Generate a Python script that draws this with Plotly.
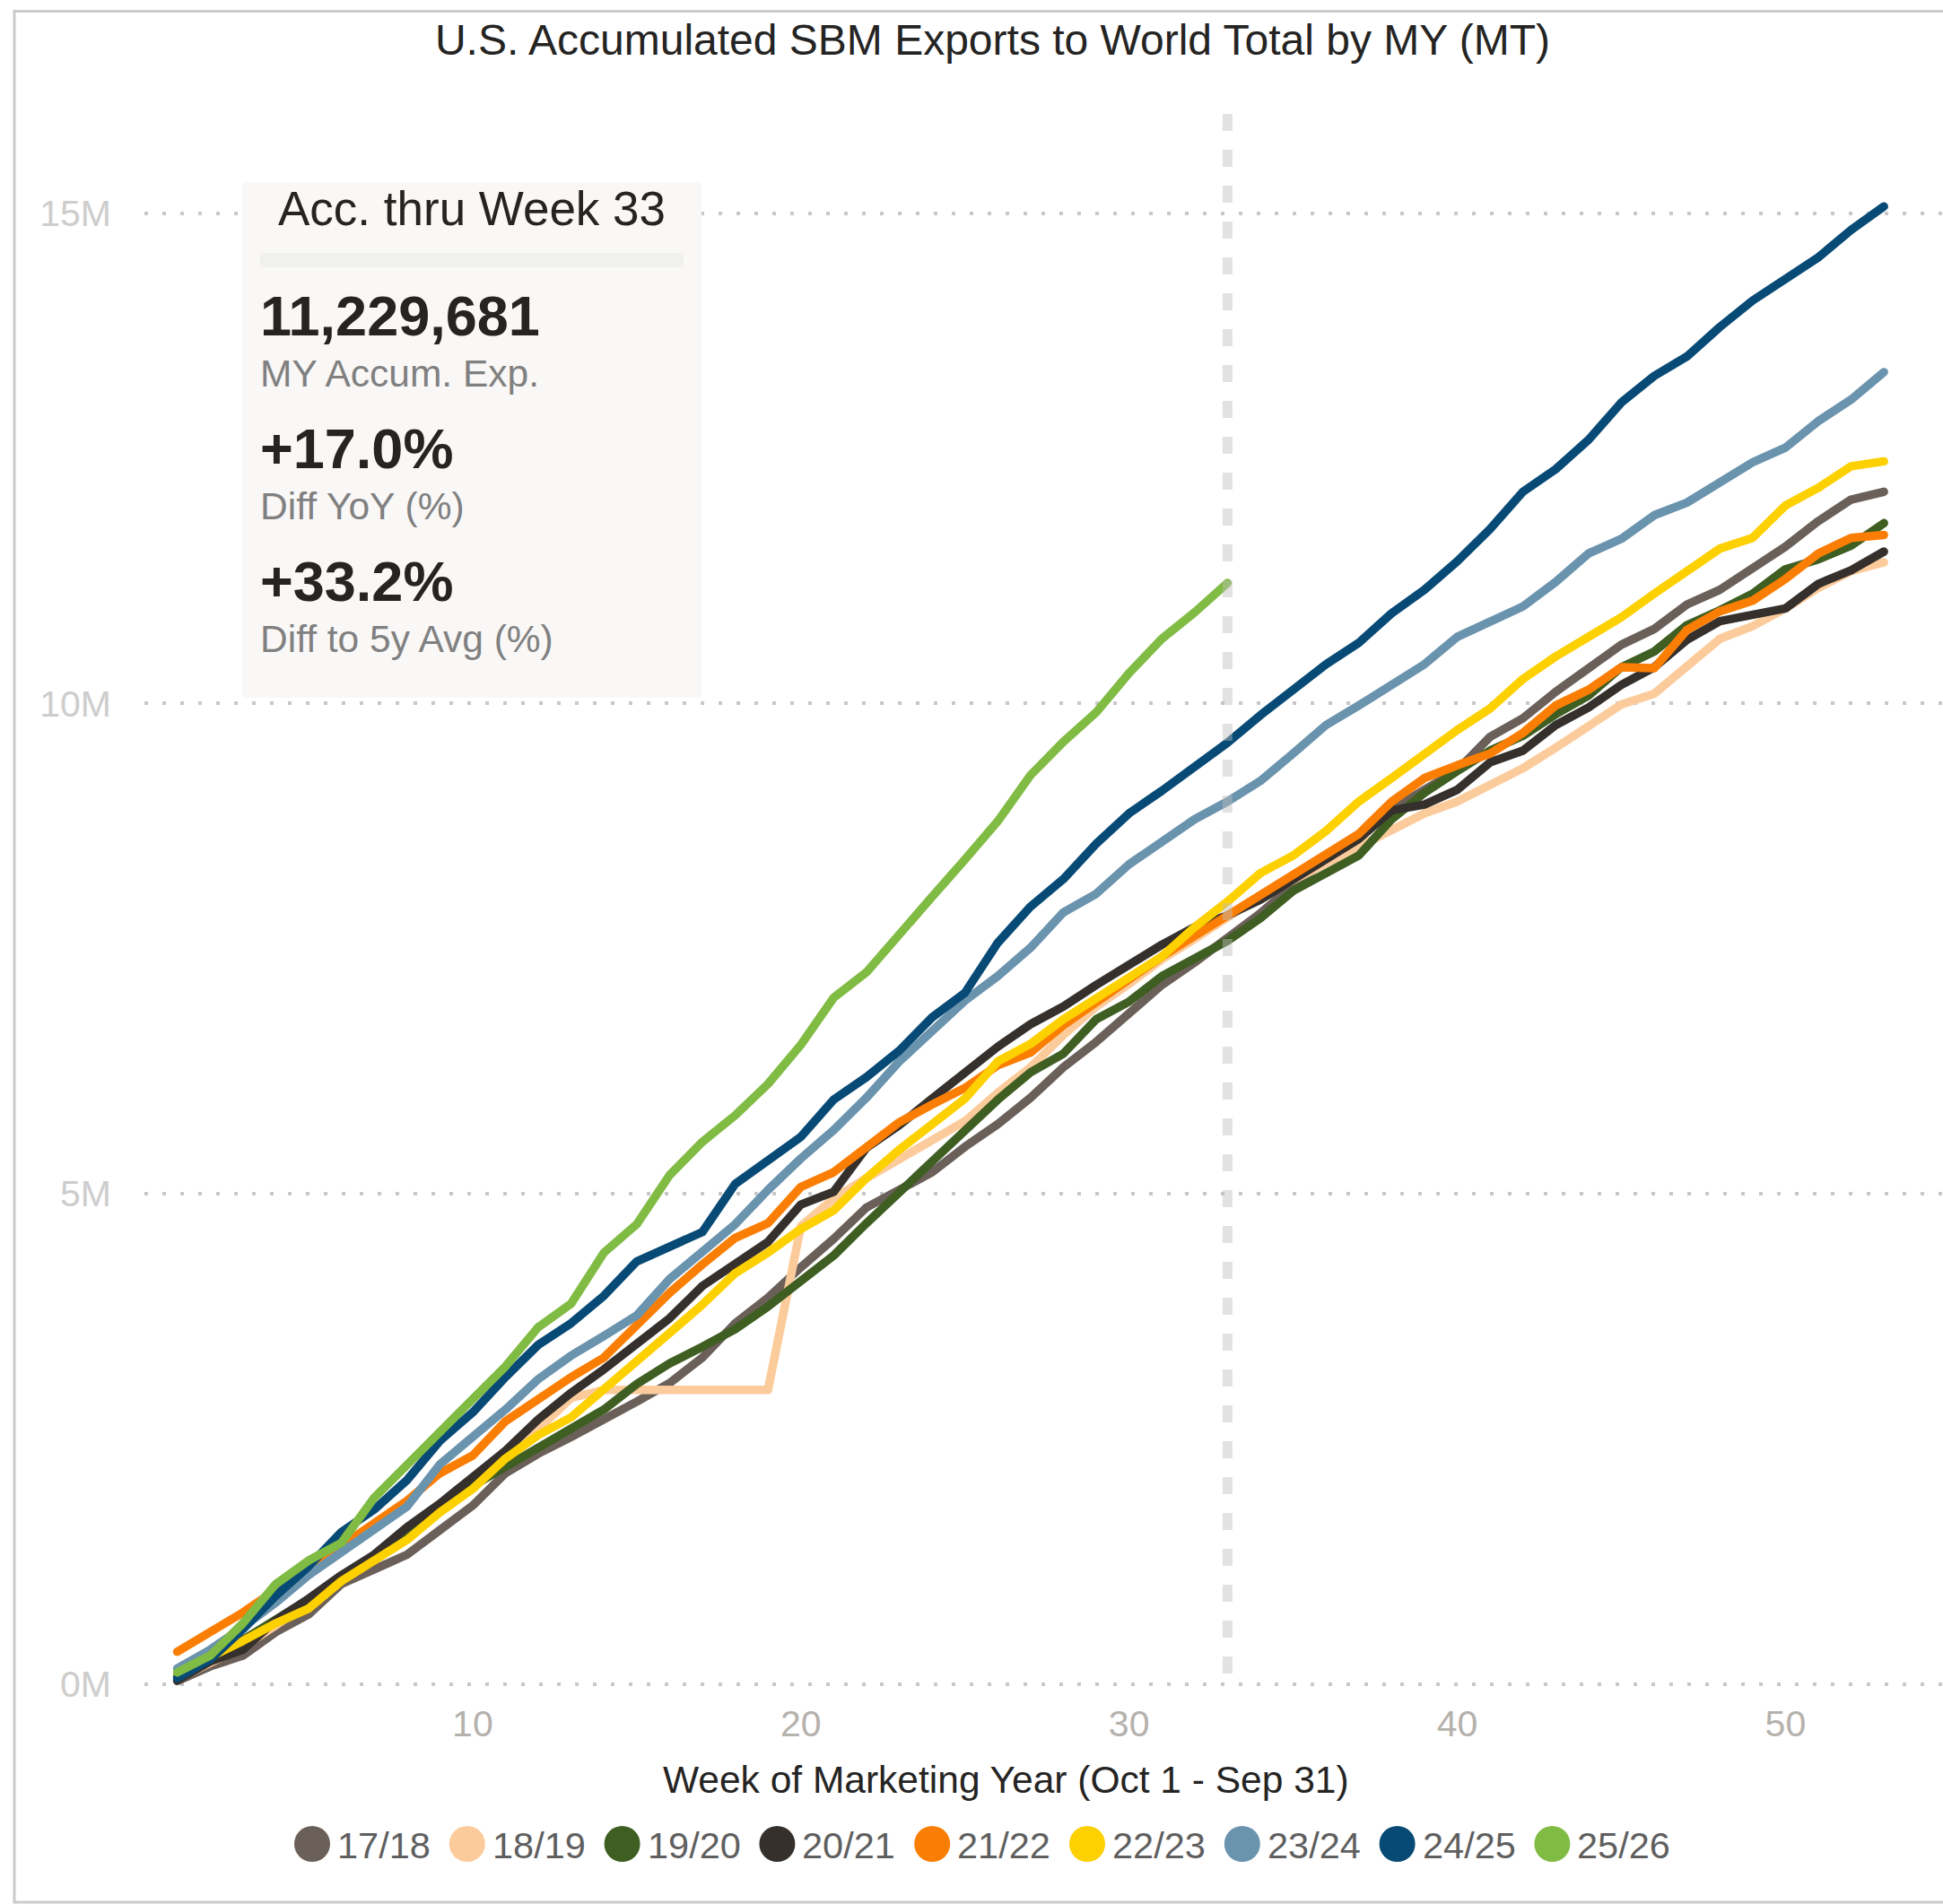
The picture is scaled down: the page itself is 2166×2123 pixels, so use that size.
import plotly.graph_objects as go

# ---------------- data (million MT, accumulated by week of MY) ----------------
seasons = ["17/18", "18/19", "19/20", "20/21", "21/22", "22/23", "23/24", "24/25", "25/26"]
colors = ["#6b6059", "#fccb9b", "#3f5e22", "#35302c", "#fb7e04", "#fdd000", "#6a93ae", "#084a76", "#80bb43"]

s1718 = [0.03, 0.18, 0.29, 0.53, 0.71, 1.02, 1.17, 1.32, 1.57, 1.82,
         2.15, 2.35, 2.52, 2.69, 2.88, 3.07, 3.33, 3.68, 3.94, 4.25,
         4.54, 4.86, 5.04, 5.22, 5.48, 5.71, 5.98, 6.29, 6.55, 6.84,
         7.13, 7.36, 7.60, 7.86, 8.15, 8.40, 8.62, 8.92, 9.12, 9.32,
         9.66, 9.85, 10.12, 10.35, 10.60, 10.76, 11.01, 11.16, 11.37, 11.60,
         11.86, 12.08, 12.16]
s1819 = [0.05, 0.22, 0.38, 0.60, 0.82, 1.05, 1.28, 1.52, 1.78, 2.02,
         2.30, 2.60, 2.92, 3.00, 3.00, 3.00, 3.00, 3.00, 3.00, 4.67,
         4.95, 5.16, 5.35, 5.53, 5.74, 6.03, 6.29, 6.62, 6.91, 7.14,
         7.39, 7.60, 7.82, 8.04, 8.20, 8.37, 8.54, 8.70, 8.88, 9.00,
         9.18, 9.34, 9.55, 9.76, 9.99, 10.10, 10.37, 10.66, 10.79, 10.97,
         11.18, 11.35, 11.44]
s1920 = [0.08, 0.28, 0.45, 0.65, 0.85, 1.07, 1.30, 1.55, 1.80, 2.02,
         2.22, 2.42, 2.60, 2.80, 3.06, 3.27, 3.44, 3.62, 3.85, 4.10,
         4.37, 4.70, 5.01, 5.33, 5.65, 5.96, 6.24, 6.43, 6.78, 6.96,
         7.22, 7.39, 7.58, 7.81, 8.09, 8.27, 8.45, 8.82, 9.09, 9.31,
         9.52, 9.67, 9.89, 10.08, 10.37, 10.53, 10.80, 10.95, 11.12, 11.37,
         11.47, 11.61, 11.84]
s2021 = [0.04, 0.23, 0.35, 0.65, 0.87, 1.11, 1.32, 1.60, 1.84, 2.10,
         2.38, 2.70, 2.97, 3.21, 3.46, 3.73, 4.06, 4.28, 4.51, 4.89,
         5.02, 5.47, 5.70, 5.97, 6.23, 6.50, 6.73, 6.91, 7.13, 7.34,
         7.54, 7.72, 7.84, 8.00, 8.20, 8.40, 8.62, 8.91, 8.97, 9.12,
         9.40, 9.52, 9.78, 9.96, 10.19, 10.37, 10.65, 10.84, 10.90, 10.97,
         11.22, 11.36, 11.55]
s2122 = [0.33, 0.53, 0.73, 0.96, 1.20, 1.41, 1.64, 1.87, 2.15, 2.33,
         2.68, 2.91, 3.13, 3.33, 3.65, 3.99, 4.28, 4.55, 4.70, 5.07,
         5.22, 5.47, 5.73, 5.91, 6.08, 6.31, 6.44, 6.72, 6.96, 7.19,
         7.42, 7.63, 7.84, 8.04, 8.24, 8.45, 8.67, 9.00, 9.24, 9.37,
         9.49, 9.70, 9.98, 10.14, 10.37, 10.36, 10.75, 10.94, 11.05, 11.27,
         11.53, 11.69, 11.72]
s2223 = [0.11, 0.27, 0.44, 0.62, 0.77, 1.05, 1.26, 1.47, 1.75, 1.99,
         2.30, 2.54, 2.72, 3.00, 3.29, 3.58, 3.87, 4.19, 4.40, 4.64,
         4.83, 5.16, 5.45, 5.71, 5.97, 6.35, 6.53, 6.78, 6.99, 7.22,
         7.42, 7.72, 7.98, 8.27, 8.45, 8.70, 9.00, 9.24, 9.49, 9.73,
         9.95, 10.25, 10.48, 10.68, 10.88, 11.12, 11.35, 11.58, 11.69, 12.02,
         12.20, 12.42, 12.47]
s2324 = [0.16, 0.35, 0.58, 0.83, 1.11, 1.35, 1.57, 1.81, 2.24, 2.52,
         2.80, 3.11, 3.35, 3.55, 3.76, 4.13, 4.41, 4.69, 5.04, 5.36,
         5.65, 5.98, 6.35, 6.67, 6.97, 7.22, 7.51, 7.87, 8.06, 8.36,
         8.59, 8.82, 9.00, 9.21, 9.49, 9.78, 9.98, 10.19, 10.40, 10.68,
         10.83, 10.99, 11.24, 11.53, 11.68, 11.92, 12.05, 12.25, 12.46, 12.61,
         12.88, 13.10, 13.38]
s2425 = [0.06, 0.25, 0.56, 0.90, 1.20, 1.55, 1.78, 2.08, 2.48, 2.77,
         3.13, 3.46, 3.68, 3.96, 4.31, 4.46, 4.61, 5.10, 5.34, 5.58,
         5.96, 6.19, 6.46, 6.80, 7.05, 7.56, 7.93, 8.21, 8.57, 8.88,
         9.11, 9.35, 9.60, 9.88, 10.13, 10.40, 10.62, 10.92, 11.16, 11.45,
         11.78, 12.16, 12.39, 12.69, 13.07, 13.34, 13.54, 13.84, 14.11, 14.33,
         14.55, 14.83, 15.07]
s2526 = [0.12, 0.29, 0.62, 1.02, 1.26, 1.44, 1.90, 2.24, 2.57, 2.91,
         3.24, 3.64, 3.88, 4.40, 4.69, 5.19, 5.53, 5.80, 6.12, 6.52,
         7.00, 7.26, 7.63, 8.03, 8.41, 8.80, 9.27, 9.61, 9.91, 10.31,
         10.66, 10.93, 11.229681]
series = [s1718, s1819, s1920, s2021, s2122, s2223, s2324, s2425, s2526]

current_week = 33
x_ticks = [10, 20, 30, 40, 50]
y_ticks = [0, 5, 10, 15]
y_tick_text = ["0M", "5M", "10M", "15M"]

title_text = "U.S. Accumulated SBM Exports to World Total by MY (MT)"
x_title = "Week of Marketing Year (Oct 1 - Sep 31)"
kpi_header = "Acc. thru Week 33"
kpi_values = ["11,229,681", "+17.0%", "+33.2%"]
kpi_labels = ["MY Accum. Exp.", "Diff YoY (%)", "Diff to 5y Avg (%)"]

# ---------------- layout geometry (pixels) ----------------
W, H = 2166, 2123
L, R, T, B = 161, 0, 123, 231
PW, PH = W - L - R, H - T - B
FONT = "Liberation Sans, Arial, sans-serif"


def px(x):
    return (x - L) / PW


def py(y):
    return (H - B - y) / PH


fig = go.Figure()
for name, col, vals in zip(seasons, colors, series):
    fig.add_trace(go.Scatter(
        x=list(range(1, len(vals) + 1)), y=vals, mode="lines", name=name,
        line=dict(color=col, width=9.5), showlegend=False,
        hovertemplate="Week %{x}<br>%{y:.2f}M<extra>" + name + "</extra>"))

shapes = []
annotations = []

# outer frame
shapes.append(dict(type="rect", xref="paper", yref="paper",
                   x0=px(16), x1=px(W + 20), y0=py(2121), y1=py(12.5),
                   line=dict(color="#cccccc", width=3), fillcolor="rgba(0,0,0,0)", layer="below"))

# current week marker line
shapes.append(dict(type="line", xref="x", yref="paper", x0=current_week, x1=current_week,
                   y0=py(1866), y1=1, layer="above",
                   line=dict(color="rgba(190,190,190,0.45)", width=11, dash="19px,21px")))

# KPI card
shapes.append(dict(type="rect", xref="paper", yref="paper", x0=px(270), x1=px(782),
                   y0=py(778), y1=py(203), fillcolor="#faf8f7", line=dict(width=0), layer="above"))
shapes.append(dict(type="rect", xref="paper", yref="paper", x0=px(290), x1=px(762),
                   y0=py(298), y1=py(282), fillcolor="#f0f0ee", line=dict(width=0), layer="above"))

annotations.append(dict(text=kpi_header, xref="paper", yref="paper", x=px(526), y=py(232),
                        xanchor="center", yanchor="middle", showarrow=False,
                        font=dict(family=FONT, size=53, color="#252423")))
val_y = [352, 500, 648]
lab_y = [416, 564, 712]
for v, lab, vy, ly in zip(kpi_values, kpi_labels, val_y, lab_y):
    annotations.append(dict(text="<b>" + v + "</b>", xref="paper", yref="paper", x=px(288), y=py(vy),
                            xanchor="left", yanchor="middle", showarrow=False,
                            font=dict(family=FONT, size=63, color="#252423")))
    annotations.append(dict(text=lab, xref="paper", yref="paper", x=px(288), y=py(ly),
                            xanchor="left", yanchor="middle", showarrow=False,
                            font=dict(family=FONT, size=42.5, color="#808080")))

# x-axis title
annotations.append(dict(text=x_title, xref="paper", yref="paper", x=px(1121), y=py(1985),
                        xanchor="center", yanchor="middle", showarrow=False,
                        font=dict(family=FONT, size=42.5, color="#252423")))

# legend (circle + label), built from the seasons / colors lists
leg_x0, leg_dx, leg_y, rad = 348, 172.8, 2056, 20
for i, (name, col) in enumerate(zip(seasons, colors)):
    cx = leg_x0 + i * leg_dx
    shapes.append(dict(type="circle", xref="paper", yref="paper",
                       x0=px(cx - rad), x1=px(cx + rad), y0=py(leg_y + rad), y1=py(leg_y - rad),
                       fillcolor=col, line=dict(width=0)))
    annotations.append(dict(text=name, xref="paper", yref="paper", x=px(cx + 26), y=py(leg_y + 1),
                            xanchor="left", yanchor="middle", showarrow=False,
                            font=dict(family=FONT, size=41.5, color="#5f5f5f")))

fig.update_layout(
    width=W, height=H,
    margin=dict(l=L, r=R, t=T, b=B, autoexpand=False),
    paper_bgcolor="white", plot_bgcolor="white",
    font=dict(family=FONT),
    title=dict(text=title_text, xref="container", yref="container",
               x=1106.5 / W, y=1 - 44 / H, xanchor="center", yanchor="middle",
               font=dict(family=FONT, size=48, color="#252423")),
    xaxis=dict(range=[0, 54.8], tickmode="array", tickvals=x_ticks,
               showgrid=False, zeroline=False, showline=False, ticks="",
               tickfont=dict(family=FONT, size=41, color="#b5b1ad"), ticklabelstandoff=2),
    yaxis=dict(range=[-0.13, 16.05], tickmode="array", tickvals=y_ticks, ticktext=y_tick_text,
               showgrid=True, gridcolor="#c8c8c8", gridwidth=3.5, griddash="4px,16px",
               zeroline=False, showline=False, ticks="",
               tickfont=dict(family=FONT, size=41, color="#cdcdcd"), ticklabelstandoff=36),
    shapes=shapes, annotations=annotations, showlegend=False,
)

post = """
document.body.style.margin = '0';
document.body.style.padding = '0';
var gd = document.getElementById('{plot_id}');
function fixCaps(){
  gd.querySelectorAll('.scatterlayer path.js-line').forEach(function(p){
    p.style.strokeLinecap='round'; p.style.strokeLinejoin='round';
  });
}
fixCaps();
gd.on('plotly_afterplot', fixCaps);
"""
fig.write_html("out.html", post_script=post, config={"displayModeBar": False})
